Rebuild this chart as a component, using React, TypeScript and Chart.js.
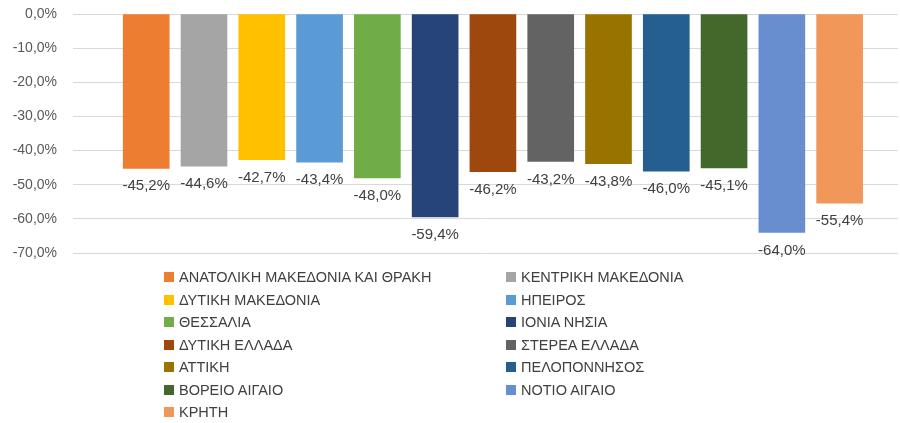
import React, { useEffect, useRef } from "react";
import { Chart, registerables } from "chart.js";

Chart.register(...registerables);

const regions: string[] = [
  "ΑΝΑΤΟΛΙΚΗ ΜΑΚΕΔΟΝΙΑ ΚΑΙ ΘΡΑΚΗ",
  "ΚΕΝΤΡΙΚΗ ΜΑΚΕΔΟΝΙΑ",
  "ΔΥΤΙΚΗ ΜΑΚΕΔΟΝΙΑ",
  "ΗΠΕΙΡΟΣ",
  "ΘΕΣΣΑΛΙΑ",
  "ΙΟΝΙΑ ΝΗΣΙΑ",
  "ΔΥΤΙΚΗ ΕΛΛΑΔΑ",
  "ΣΤΕΡΕΑ ΕΛΛΑΔΑ",
  "ΑΤΤΙΚΗ",
  "ΠΕΛΟΠΟΝΝΗΣΟΣ",
  "ΒΟΡΕΙΟ ΑΙΓΑΙΟ",
  "ΝΟΤΙΟ ΑΙΓΑΙΟ",
  "ΚΡΗΤΗ",
];

const values: number[] = [-45.2, -44.6, -42.7, -43.4, -48.0, -59.4, -46.2, -43.2, -43.8, -46.0, -45.1, -64.0, -55.4];

const colors: string[] = [
  "#ED7D31",
  "#A5A5A5",
  "#FFC000",
  "#5B9BD5",
  "#70AD47",
  "#264478",
  "#9E480E",
  "#636363",
  "#997300",
  "#255E91",
  "#43682B",
  "#698ED0",
  "#F1975A",
];

const yMin = -70;
const yMax = 0;
const yStep = 10;

const fmt = (v: number) => v.toFixed(1).replace(".", ",") + "%";

const labelPlugin = {
  id: "barLabels",
  afterDatasetsDraw(chart: any) {
    const ctx = chart.ctx;
    ctx.save();
    ctx.font = "15px 'Liberation Sans', Arial, sans-serif";
    ctx.fillStyle = "#404040";
    ctx.textAlign = "center";
    ctx.textBaseline = "middle";
    chart.data.datasets.forEach((ds: any, di: number) => {
      const meta = chart.getDatasetMeta(di);
      meta.data.forEach((el: any, i: number) => {
        const v = ds.data[i].y;
        ctx.fillText(fmt(v), el.x, el.y + 18);
      });
    });
    ctx.restore();
  },
};

export default function App() {
  const ref = useRef<HTMLCanvasElement | null>(null);

  useEffect(() => {
    if (!ref.current) return;
    const chart = new Chart(ref.current, {
      type: "bar",
      data: {
        datasets: [
          {
            label: "values",
            data: values.map((v, i) => ({ x: i, y: v })),
            backgroundColor: colors,
            barThickness: 46,
          } as any,
        ],
      },
      options: {
        animation: false,
        responsive: false,
        layout: { padding: { left: 0, right: 2, top: 14, bottom: 170 } },
        plugins: {
          legend: { display: false },
          tooltip: { enabled: false },
        },
        scales: {
          x: {
            type: "linear",
            display: false,
            offset: false,
            min: -1.267,
            max: 13.01,
          },
          y: {
            min: yMin,
            max: yMax,
            border: { display: false },
            grid: { color: "#d9d9d9", drawTicks: false, lineWidth: 1 },
            ticks: {
              stepSize: yStep,
              padding: 16,
              color: "#595959",
              font: { family: "'Liberation Sans', Arial, sans-serif", size: 14 },
              callback: (v: any) => fmt(Number(v)),
            },
            afterFit: (scale: any) => {
              scale.width = 73;
              scale.paddingTop = 0;
              scale.paddingBottom = 0;
            },
          },
        },
      },
      plugins: [labelPlugin],
    });
    return () => chart.destroy();
  }, []);

  return (
    <div style={{ position: "absolute", left: 0, top: 0, width: 900, height: 423, background: "#fff" }}>
      <canvas ref={ref} width={900} height={423} style={{ position: "absolute", left: 0, top: 0 }} />
      {regions.map((r, i) => {
        const col = i % 2;
        const row = Math.floor(i / 2);
        return (
          <div
            key={r}
            style={{
              position: "absolute",
              left: col ? 506 : 164,
              top: 266 + row * 22.5,
              height: 22,
              display: "flex",
              alignItems: "center",
              fontFamily: "'Liberation Sans', Arial, sans-serif",
              fontSize: 14.5,
              color: "#404040",
              whiteSpace: "nowrap",
            }}
          >
            <span style={{ display: "inline-block", width: 10, height: 10, background: colors[i], marginRight: 5 }} />
            <span>{r}</span>
          </div>
        );
      })}
    </div>
  );
}
